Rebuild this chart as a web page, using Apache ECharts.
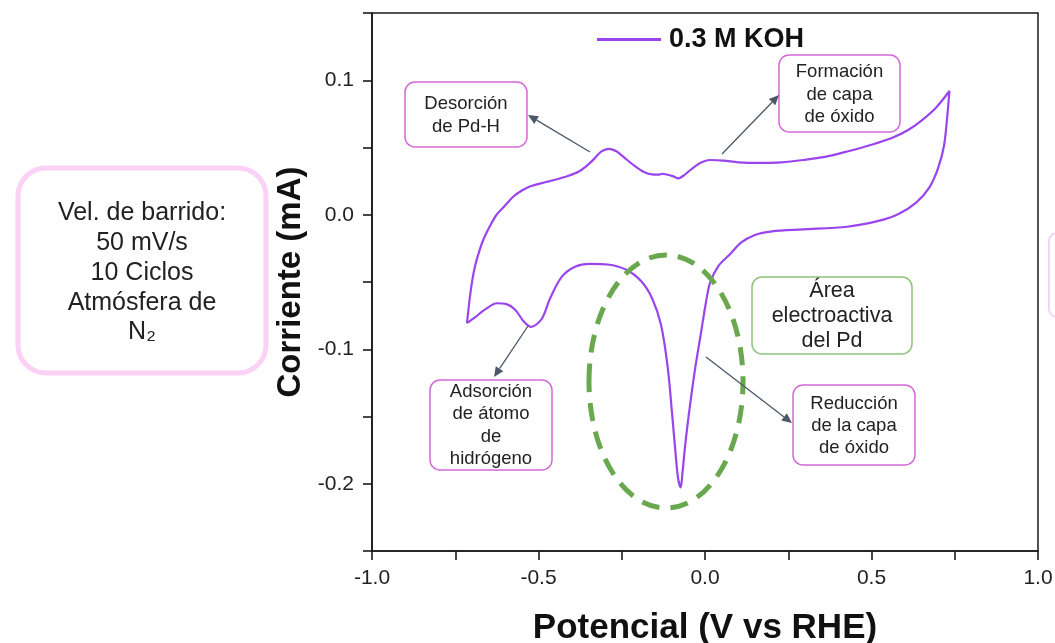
<!DOCTYPE html>
<html>
<head>
<meta charset="utf-8">
<script src="https://cdn.jsdelivr.net/npm/echarts@6/dist/echarts.min.js"></script>
<style>
html,body{margin:0;padding:0;background:#fff;}
#chart{width:1055px;height:643px;}
</style>
</head>
<body>
<div id="chart"></div>
<script>
// Anodic (forward) sweep: potential (V vs RHE) and current (mA)
const forwardPotential = [-0.715,-0.711,-0.706,-0.699,-0.691,-0.679,-0.666,-0.647,-0.626,-0.600,-0.576,-0.550,-0.526,-0.490,-0.450,-0.410,-0.380,-0.357,-0.335,-0.312,-0.288,-0.265,-0.245,-0.215,-0.185,-0.160,-0.140,-0.128,-0.112,-0.095,-0.080,-0.065,-0.050,-0.030,-0.010,0.015,0.055,0.100,0.160,0.230,0.295,0.360,0.427,0.500,0.561,0.610,0.650,0.695,0.734];
const forwardCurrent   = [-0.0806,-0.072,-0.061,-0.049,-0.0386,-0.028,-0.0188,-0.009,0.000,0.007,0.0134,0.018,0.021,0.0235,0.026,0.029,0.032,0.036,0.041,0.047,0.049,0.047,0.043,0.037,0.032,0.030,0.0298,0.0305,0.0297,0.0285,0.0271,0.029,0.032,0.036,0.039,0.0407,0.0403,0.039,0.0385,0.039,0.0407,0.043,0.047,0.052,0.057,0.063,0.070,0.080,0.092];
// Cathodic (reverse) sweep
const reversePotential = [0.734,0.728,0.718,0.700,0.674,0.634,0.581,0.521,0.427,0.294,0.201,0.148,0.108,0.075,0.041,0.015,0.001,-0.012,-0.029,-0.045,-0.059,-0.068,-0.073,-0.081,-0.089,-0.099,-0.112,-0.132,-0.159,-0.192,-0.238,-0.292,-0.345,-0.392,-0.431,-0.465,-0.491,-0.522,-0.545,-0.570,-0.598,-0.625,-0.658,-0.691,-0.715];
const reverseCurrent   = [0.092,0.0744,0.0517,0.0346,0.0204,0.009,0.0005,-0.0046,-0.0089,-0.0109,-0.0123,-0.0152,-0.0208,-0.0294,-0.0379,-0.0507,-0.0678,-0.0877,-0.1133,-0.1417,-0.1701,-0.1929,-0.2028,-0.1957,-0.1758,-0.1474,-0.1133,-0.082,-0.0621,-0.0493,-0.0407,-0.037,-0.0365,-0.0388,-0.0464,-0.0621,-0.0777,-0.0834,-0.0791,-0.0706,-0.0663,-0.0658,-0.070,-0.0763,-0.0806];

const seriesName = '0.3 M KOH';
const xTitle = 'Potencial (V vs RHE)';
const yTitle = 'Corriente (mA)';
const conditionsText = 'Vel. de barrido:\n50 mV/s\n10 Ciclos\nAtmósfera de\nN₂';
const noteDesorcion = 'Desorción\nde Pd-H';
const noteFormacion = 'Formación\nde capa\nde óxido';
const noteAdsorcion = 'Adsorción\nde átomo\nde\nhidrógeno';
const noteArea = 'Área\nelectroactiva\ndel Pd';
const noteReduccion = 'Reducción\nde la capa\nde óxido';

const FONT = '"Liberation Sans", Arial, Helvetica, sans-serif';
const PURPLE = '#9a45ec';
const MAGENTA = '#d36ad8';
const ARROW = '#4b5868';

const loop = [];
forwardPotential.forEach((x, i) => loop.push([x, forwardCurrent[i]]));
reversePotential.forEach((x, i) => { if (i > 0) loop.push([x, reverseCurrent[i]]); });

function box(x, y, w, h, r, stroke, lw) {
  return { type: 'rect', z: 20, shape: { x, y, width: w, height: h, r }, style: { fill: '#fff', stroke, lineWidth: lw } };
}
function label(text, cx, cy, size, lh) {
  return { type: 'text', z: 21, x: cx, y: cy, style: { text, fill: '#222', fontSize: size, fontFamily: FONT, lineHeight: lh, align: 'center', verticalAlign: 'middle', textAlign: 'center', textVerticalAlign: 'middle' } };
}
function arrow(x1, y1, x2, y2) {
  const a = Math.atan2(y2 - y1, x2 - x1), c = Math.cos(a), s = Math.sin(a);
  const L = 10, W = 4.5;
  const bx = x2 - L * c, by = y2 - L * s;
  return [
    { type: 'line', z: 20, shape: { x1, y1, x2: bx, y2: by }, style: { stroke: ARROW, lineWidth: 1.3 } },
    { type: 'polygon', z: 20, shape: { points: [[x2, y2], [bx - W * s, by + W * c], [bx + W * s, by - W * c]] }, style: { fill: ARROW } }
  ];
}

const graphics = [
  box(18, 168, 248, 205, 28, '#fbd2f6', 5),
  label(conditionsText, 142, 273, 25, 29.7),
  { type: 'rect', z: 20, shape: { x: 1049, y: 233, width: 40, height: 84, r: 8 }, style: { fill: '#fff', stroke: '#f3d6f2', lineWidth: 2 } },
  box(405, 82, 122, 65, 10, MAGENTA, 1.5),
  label(noteDesorcion, 466, 115.5, 18.5, 23),
  box(779, 55, 121, 77, 10, MAGENTA, 1.5),
  label(noteFormacion, 839.5, 94.6, 18.5, 22.3),
  box(430, 380, 122, 90, 10, MAGENTA, 1.5),
  label(noteAdsorcion, 491, 425.5, 18.5, 22.3),
  box(752, 277, 160, 77, 10, '#8dc47a', 1.5),
  label(noteArea, 832, 316, 21.5, 25),
  box(793, 385, 122, 80, 10, MAGENTA, 1.5),
  label(noteReduccion, 854, 426, 18.5, 22.3),
  { type: 'ellipse', z: 15, shape: { cx: 666, cy: 381.5, rx: 77, ry: 126.5 }, style: { fill: 'none', stroke: '#6aa84f', lineWidth: 5, lineDash: [18, 11] } },
  ...arrow(590, 152, 528, 115),
  ...arrow(722, 154, 779, 95),
  ...arrow(528, 326, 494, 377),
  ...arrow(706, 357, 792, 423)
];

const chart = echarts.init(document.getElementById('chart'), null, { renderer: 'canvas' });
chart.setOption({
  animation: false,
  backgroundColor: '#fff',
  textStyle: { fontFamily: FONT },
  grid: { left: 372, right: 17, top: 13, bottom: 92, containLabel: false, outerBoundsMode: 'none', show: true, borderColor: '#1a1a1a', borderWidth: 1.5, backgroundColor: 'transparent' },
  legend: {
    data: [{ name: seriesName, icon: 'rect' }], left: 592, top: 21, itemWidth: 64, itemHeight: 3, itemGap: 0,
    itemStyle: { color: PURPLE },
    textStyle: { fontSize: 27, fontWeight: 'bold', color: '#111', fontFamily: FONT, padding: [0, 0, 0, 3] }
  },
  xAxis: {
    type: 'value', min: -1, max: 1, interval: 0.25,
    name: xTitle, nameLocation: 'middle', nameGap: 60,
    nameTextStyle: { fontSize: 35, fontWeight: 'bold', color: '#111', fontFamily: FONT },
    axisLine: { onZero: false, lineStyle: { color: '#1a1a1a', width: 1.6 } },
    axisTick: { inside: false, length: 9, lineStyle: { color: '#1a1a1a', width: 1.6 } },
    splitLine: { show: false },
    axisLabel: {
      margin: 17, fontSize: 21, color: '#222', fontFamily: FONT, showMinLabel: true, showMaxLabel: true,
      formatter: v => { const k = Math.round(v * 100); return k % 50 === 0 ? (k / 100).toFixed(1) : ''; }
    }
  },
  yAxis: {
    type: 'value', min: -0.25, max: 0.15, interval: 0.05,
    name: yTitle, nameLocation: 'middle', nameGap: 65, nameRotate: 90,
    nameTextStyle: { fontSize: 33, fontWeight: 'bold', color: '#111', fontFamily: FONT },
    axisLine: { show: true, onZero: false, lineStyle: { color: '#1a1a1a', width: 1.6 } },
    axisTick: { show: true, inside: false, length: 9, lineStyle: { color: '#1a1a1a', width: 1.6 } },
    splitLine: { show: false },
    axisLabel: {
      margin: 18, fontSize: 21, color: '#222', fontFamily: FONT, showMinLabel: true, showMaxLabel: true,
      formatter: v => { const k = Math.round(v * 100); return (k % 10 === 0 && k >= -20 && k <= 10) ? (k / 100).toFixed(1) : ''; }
    }
  },
  series: [{
    name: seriesName, type: 'line', data: loop, symbol: 'none', smooth: 0.3,
    lineStyle: { color: PURPLE, width: 2.2 }, itemStyle: { color: PURPLE }, z: 5
  }],
  graphic: graphics
});
</script>
</body>
</html>
